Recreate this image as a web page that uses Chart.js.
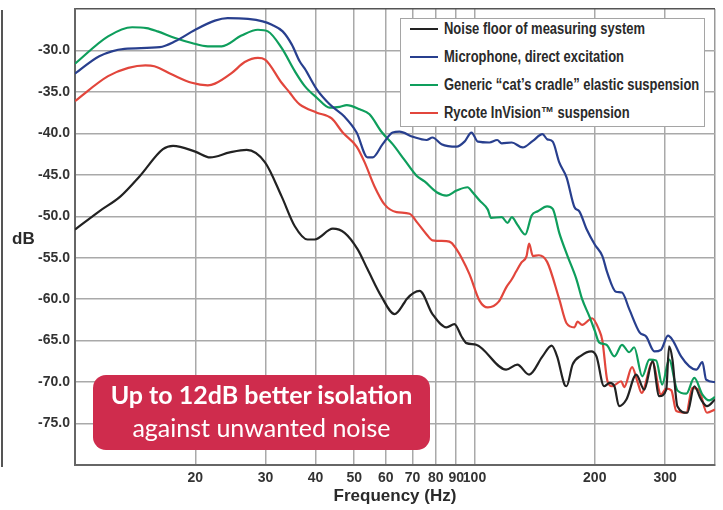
<!DOCTYPE html>
<html>
<head>
<meta charset="utf-8">
<script src="https://cdn.jsdelivr.net/npm/chart.js@4.4.1/dist/chart.umd.min.js"></script>
<style>
  body { margin: 0; background: #fff; }
  #wrap { position: relative; width: 723px; height: 510px; overflow: hidden; }
  #sideLine { position: absolute; left: 1px; top: 10px; width: 2px; height: 457px; background: #555; }
  #dbLabel {
    position: absolute; left: 12px; top: 229px;
    font: bold 17px "Liberation Sans", Arial, sans-serif; color: #2a2a2a;
  }
  #legend {
    position: absolute; left: 400px; top: 18px; width: 303px; height: 107px;
    background: #fff; border: 1.5px solid #a5a5a5; box-sizing: content-box;
  }
  .row {
    position: absolute; left: 0; height: 20px; display: flex; align-items: center;
    font: bold 16px "Liberation Sans", Arial, sans-serif; color: #2a2a2a;
    white-space: nowrap;
  }
  .row .swatch { display: inline-block; width: 28px; height: 2px; margin: 0 6px 0 8.5px; }
  .row .txt { display: inline-block; transform: scaleX(0.81); transform-origin: left center; }
  #note {
    position: absolute; left: 93px; top: 375px; width: 337px; height: 75px;
    background: #cf2c4d; border-radius: 13px; color: #fff; text-align: center;
    font-family: Lato, "Open Sans", sans-serif;
  }
  #note .l1 { position: absolute; left: 0; right: 0; top: 4px; font-size: 25px; font-weight: bold; }
  #note .l2 { position: absolute; left: 0; right: 0; top: 37px; font-size: 25px; }
</style>
</head>
<body>
<div id="wrap">
  <canvas id="isolationChart" width="723" height="510"></canvas>
  <div id="sideLine"></div>
  <div id="dbLabel">dB</div>
  <div id="legend"></div>
  <div id="note">
    <div class="l1">Up to 12dB better isolation</div>
    <div class="l2">against unwanted noise</div>
  </div>
</div>
<script>
// --------------------------------
// Data (frequency in Hz, level in dB)
// --------------------------------
const seriesNames = [
  "Noise floor of measuring system",
  "Microphone, direct excitation",
  "Generic \u201ccat\u2019s cradle\u201d elastic suspension",
  "Rycote InVision\u2122 suspension",
];
const seriesColors = ["#222222", "#283f8e", "#0e9e5c", "#e2463c"];

const xTickValues = [10, 20, 30, 40, 50, 60, 70, 80, 90, 100, 200, 300, 400];
const xTickLabels = ["", "20", "30", "40", "50", "60", "70", "80", "90", "100", "200", "300", ""];

const noiseFreq = [10, 11.5, 13, 14.5, 16.6, 17.6, 20, 21.8, 24.4, 26.9, 29.9, 32.9, 35.5, 38.2, 39.8, 44.2, 47.3, 51, 54, 58.5, 63.1, 66.8, 67.6, 72.9, 78.5, 85.1, 89.1, 92.8, 95.5, 101, 120, 128, 137, 148, 156, 161, 168, 170, 176, 185, 196, 202, 211, 218, 224, 230, 240, 254, 266, 279, 290, 302, 307, 313, 322, 341, 355, 369, 382, 400];
const noiseDb = [-51.6, -49.4, -47.6, -45.2, -41.9, -41.5, -42.2, -42.9, -42.3, -42.0, -43.5, -47.6, -51.2, -52.8, -52.8, -51.5, -52.0, -54.0, -56.4, -59.7, -61.8, -60.4, -60.0, -59.0, -61.8, -63.4, -63.0, -64.5, -65.3, -65.5, -68.5, -67.9, -69.1, -66.9, -65.6, -66.9, -70.3, -70.5, -67.9, -66.8, -66.3, -66.9, -70.5, -70.1, -70.5, -72.9, -72.1, -69.1, -70.9, -67.5, -71.7, -70.9, -65.7, -67.3, -72.9, -73.7, -70.5, -72.1, -72.9, -72.1];

const micFreq = [10, 11.5, 13.3, 16.3, 17.8, 20, 22.4, 24.1, 27.1, 29.5, 31.1, 33.1, 34.9, 36.5, 37.6, 40.3, 43.4, 47.3, 50.7, 54, 55.6, 58.9, 62.4, 64.9, 70, 75.9, 78.5, 82.7, 90.2, 94.4, 98.3, 102, 109, 114, 117, 124, 132, 140, 148, 152, 157, 163, 170, 178, 183, 191, 200, 209, 215, 226, 234, 244, 259, 269, 282, 293, 305, 313, 329, 345, 359, 372, 380, 400];
const micDb = [-32.8, -30.7, -29.8, -29.6, -28.9, -27.5, -26.4, -26.1, -26.2, -26.5, -26.9, -27.7, -29.3, -31.3, -32.2, -34.7, -36.5, -38.0, -39.9, -42.9, -42.9, -41.3, -39.9, -39.8, -40.4, -40.8, -40.5, -41.3, -41.6, -41.0, -39.9, -41.0, -41.1, -40.8, -41.2, -41.1, -41.7, -40.9, -40.1, -40.7, -41.0, -43.5, -45.3, -48.9, -49.4, -51.6, -53.4, -54.8, -56.8, -59.1, -59.2, -61.2, -64.0, -64.5, -66.3, -66.1, -64.4, -64.9, -66.9, -68.1, -68.5, -67.6, -69.7, -70.0];

const cradleFreq = [10, 12.1, 13.9, 15.1, 16.1, 17.8, 19.6, 21.5, 23.3, 26.1, 28.7, 30.4, 32.9, 35.5, 37.6, 40.3, 43.4, 46, 47.9, 51.6, 54.6, 58.5, 62.4, 66.8, 71.6, 75, 80.4, 85.1, 90.2, 96.1, 98.9, 103, 108, 110, 117, 121, 124, 128, 134, 139, 144, 152, 157, 163, 171, 180, 186, 194, 200, 205, 214, 224, 234, 244, 251, 263, 274, 285, 295, 307, 322, 339, 355, 372, 387, 400];
const cradleDb = [-31.6, -28.3, -27.2, -27.3, -27.7, -28.5, -29.1, -29.5, -29.5, -28.2, -27.5, -27.7, -29.7, -32.5, -34.3, -35.7, -36.9, -36.8, -36.6, -37.1, -37.7, -39.8, -41.3, -43.2, -45.1, -45.8, -47.1, -47.5, -46.9, -46.5, -47.1, -48.1, -49.2, -50.2, -50.1, -50.8, -50.1, -51.0, -52.2, -49.9, -49.4, -48.8, -49.1, -52.0, -54.8, -57.6, -60.0, -62.1, -63.8, -65.2, -65.5, -66.9, -65.5, -66.4, -65.8, -69.3, -67.3, -67.4, -70.3, -67.3, -71.0, -71.4, -69.5, -71.5, -72.2, -71.8];

const rycoteFreq = [10, 12.1, 13.6, 15, 15.8, 17.5, 19.6, 21.5, 22.4, 24.7, 26.6, 28.7, 29.9, 32.9, 34.5, 35.5, 36.5, 40.3, 43.9, 46.8, 50.7, 53.1, 56.2, 59.6, 63.8, 68.8, 72, 75.9, 78.5, 85.1, 87.6, 90.2, 92.8, 97.2, 103, 108, 115, 120, 124, 127, 131, 135, 137, 140, 145, 152, 163, 170, 178, 181, 186, 197, 205, 209, 215, 221, 233, 237, 248, 256, 262, 279, 293, 302, 311, 320, 339, 351, 365, 382, 400];
const rycoteDb = [-36.1, -33.1, -32.1, -31.8, -31.9, -32.9, -33.9, -34.2, -34.0, -32.7, -31.4, -30.9, -31.1, -33.9, -35.1, -35.9, -36.5, -37.5, -38.2, -39.9, -41.6, -43.5, -46.4, -48.6, -49.5, -49.7, -50.8, -52.2, -52.9, -53.0, -53.2, -54.0, -55.0, -57.0, -60.2, -61.0, -60.3, -58.6, -57.6, -56.7, -55.6, -54.8, -53.3, -54.8, -54.7, -55.5, -60.0, -62.9, -63.4, -62.7, -63.1, -62.3, -63.7, -65.0, -69.8, -70.5, -69.9, -70.6, -68.2, -70.0, -71.3, -67.6, -71.5, -70.8, -71.0, -73.5, -73.7, -70.7, -71.0, -73.7, -73.3];

// -------------------------------
// Helpers
// -------------------------------
const toPoints = (xs, ys) => xs.map((x, i) => ({ x, y: ys[i] }));
const seriesData = [
  toPoints(noiseFreq, noiseDb),
  toPoints(micFreq, micDb),
  toPoints(cradleFreq, cradleDb),
  toPoints(rycoteFreq, rycoteDb),
];

// -------------------------------
// HTML legend (boxed, inside plot)
// -------------------------------
const legendEl = document.getElementById("legend");
seriesNames.forEach((name, i) => {
  const row = document.createElement("div");
  row.className = "row";
  row.style.top = i * 28 - 0.5 + "px";
  row.innerHTML = `<span class="swatch" style="background:${seriesColors[i]}"></span><span class="txt">${name}</span>`;
  legendEl.appendChild(row);
});

// -------------------------------
// Chart
// -------------------------------
const ctx = document.getElementById("isolationChart").getContext("2d");
const gridGrey = "#a9a9a9";
const frameGrey = "#666666";

new Chart(ctx, {
  type: "line",
  data: {
    datasets: seriesData.map((pts, i) => ({
      label: seriesNames[i],
      data: pts,
      borderColor: seriesColors[i],
      borderWidth: 2.2,
      pointRadius: 0,
      fill: false,
      cubicInterpolationMode: "monotone",
    })),
  },
  options: {
    responsive: false,
    animation: false,
    layout: { padding: { top: 9, right: 8, left: 0, bottom: 0 } },
    plugins: { legend: { display: false }, tooltip: { enabled: false } },
    scales: {
      x: {
        type: "logarithmic",
        min: 10,
        max: 400,
        afterBuildTicks: (scale) => {
          scale.ticks = xTickValues.map((v) => ({ value: v }));
        },
        afterFit: (scale) => {
          scale.height = 45;
          scale.paddingLeft = 0;
          scale.paddingRight = 0;
        },
        ticks: {
          autoSkip: false,
          maxRotation: 0,
          padding: 5,
          color: "#333",
          font: { family: "Liberation Sans", size: 14, weight: "bold" },
          callback: (val) => {
            const i = xTickValues.indexOf(val);
            return i >= 0 ? xTickLabels[i] : "";
          },
        },
        grid: {
          drawTicks: false,
          lineWidth: 1.5,
          color: (c) => (c.tick && c.tick.value === 400 ? "#999" : gridGrey),
        },
        border: { color: frameGrey, width: 2 },
        title: {
          display: true,
          text: "Frequency (Hz)",
          color: "#2a2a2a",
          font: { family: "Liberation Sans", size: 17, weight: "bold" },
          padding: { top: 0, bottom: 3 },
        },
      },
      y: {
        min: -80,
        max: -25,
        afterFit: (scale) => {
          scale.width = 75;
          scale.paddingTop = 0;
          scale.paddingBottom = 0;
        },
        ticks: {
          stepSize: 5,
          padding: 5,
          color: "#333",
          font: { family: "Liberation Sans", size: 14, weight: "bold" },
          callback: (val) => (val <= -30 && val >= -75 ? val.toFixed(1) : ""),
        },
        grid: {
          drawTicks: false,
          lineWidth: 1.5,
          color: (c) => (c.tick && c.tick.value === -25 ? "#555" : gridGrey),
        },
        border: { color: frameGrey, width: 2 },
      },
    },
  },
});
</script>
</body>
</html>
